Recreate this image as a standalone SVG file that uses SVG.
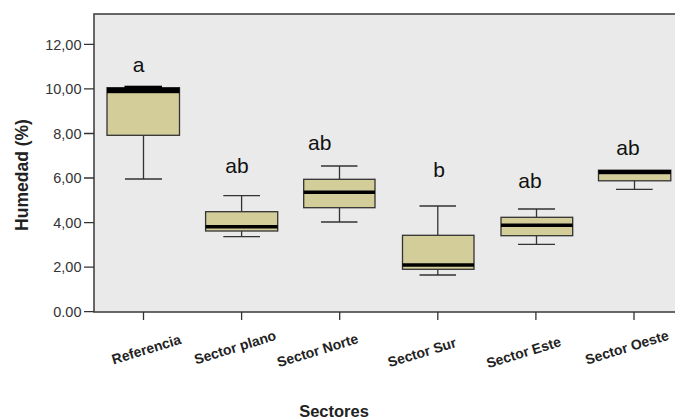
<svg xmlns="http://www.w3.org/2000/svg" width="675" height="420" viewBox="0 0 675 420">
<style>
.tick{stroke:#333;stroke-width:1.3;fill:none}
.ylab{font-family:"Liberation Sans",Arial,sans-serif;font-size:14.5px;fill:#333;text-anchor:end}
.xlab{font-family:"Liberation Sans",Arial,sans-serif;font-size:14px;font-weight:bold;fill:#222;text-anchor:middle}
.box{fill:#d3ce99;stroke:#333;stroke-width:1.3}
.wh{stroke:#333;stroke-width:1.3;fill:none}
.med{stroke:#000;stroke-width:3.5}
.sig{font-family:"Liberation Sans",Arial,sans-serif;font-size:21px;fill:#111;text-anchor:middle}
.title{font-family:"Liberation Sans",Arial,sans-serif;font-weight:bold;fill:#222;text-anchor:middle}
</style>
<rect width="675" height="420" fill="#fff"/>
<g id="plot-area">
<rect x="94" y="14" width="590" height="298" fill="#eaeaea" stroke="#444" stroke-width="1.6"/>
</g>
<g id="y-axis">
<path class="tick" d="M84 44.3H94M84 88.9H94M84 133.5H94M84 178H94M84 222.6H94M84 267.1H94M84 311.7H94"/>
<text class="ylab" x="81.5" y="49.5">12,00</text>
<text class="ylab" x="81.5" y="94">10,00</text>
<text class="ylab" x="81.5" y="138.7">8,00</text>
<text class="ylab" x="81.5" y="183.2">6,00</text>
<text class="ylab" x="81.5" y="227.8">4,00</text>
<text class="ylab" x="81.5" y="272.3">2,00</text>
<text class="ylab" x="81.5" y="316.9">0.00</text>
<text class="title" font-size="17.5" transform="translate(28,175) rotate(-90)">Humedad (%)</text>
</g>
<g id="x-axis">
<path class="tick" d="M143.5 312V320M241.6 312V320M339.7 312V320M437.8 312V320M535.9 312V320M634 312V320"/>
<text class="xlab" transform="translate(147.7,354) rotate(-17)">Referencia</text>
<text class="xlab" transform="translate(236.5,352) rotate(-17)">Sector plano</text>
<text class="xlab" transform="translate(319,355) rotate(-17)">Sector Norte</text>
<text class="xlab" transform="translate(423.4,357) rotate(-17)">Sector Sur</text>
<text class="xlab" transform="translate(525,357) rotate(-17)">Sector Este</text>
<text class="xlab" transform="translate(628.3,352) rotate(-17)">Sector Oeste</text>
<text class="title" font-size="16.5" x="334" y="417">Sectores</text>
</g>
<g id="box-referencia">
<path class="wh" d="M143.5 135.3V179M125 179H162"/>
<rect class="box" x="107" y="87.7" width="72.5" height="47.6"/>
<rect x="107" y="87.7" width="72.5" height="5.5" fill="#000"/>
<rect x="124.5" y="85.7" width="37.5" height="2.5" fill="#000"/>
<text class="sig" x="138.7" y="72.3">a</text>
</g>
<g id="box-sector-plano">
<path class="wh" d="M241.6 195.7V211.7M223.3 195.7H260M241.6 231V236.7M223.3 236.7H260"/>
<rect class="box" x="205.6" y="211.7" width="72.1" height="19.3"/>
<line class="med" x1="205.6" y1="226.8" x2="277.7" y2="226.8"/>
<text class="sig" x="237" y="172.5">ab</text>
</g>
<g id="box-sector-norte">
<path class="wh" d="M339.5 166V179.3M321 166H357.5M339.5 207.7V222M321 222H357.5"/>
<rect class="box" x="303.7" y="179.3" width="71.3" height="28.4"/>
<line class="med" x1="303.7" y1="192.3" x2="375" y2="192.3"/>
<text class="sig" x="319.7" y="150">ab</text>
</g>
<g id="box-sector-sur">
<path class="wh" d="M437.8 206V235.3M419.5 206H456M437.8 269.3V275M419.5 275H456"/>
<rect class="box" x="402.5" y="235.3" width="71.5" height="34"/>
<line class="med" x1="402.5" y1="265" x2="474" y2="265"/>
<text class="sig" x="439" y="176.5">b</text>
</g>
<g id="box-sector-este">
<path class="wh" d="M536.5 209V217.3M518 209H555M536.5 235.7V244.3M518 244.3H555"/>
<rect class="box" x="501" y="217.3" width="71.7" height="18.4"/>
<line class="med" x1="501" y1="225.3" x2="572.7" y2="225.3"/>
<text class="sig" x="530" y="187.5">ab</text>
</g>
<g id="box-sector-oeste">
<path class="wh" d="M634.5 180.7V189.3M616 189.3H652.7"/>
<rect class="box" x="598.5" y="170.2" width="72.3" height="10.6"/>
<rect x="598.5" y="170" width="72.3" height="4.2" fill="#000"/>
<text class="sig" x="628" y="155">ab</text>
</g>
</svg>
